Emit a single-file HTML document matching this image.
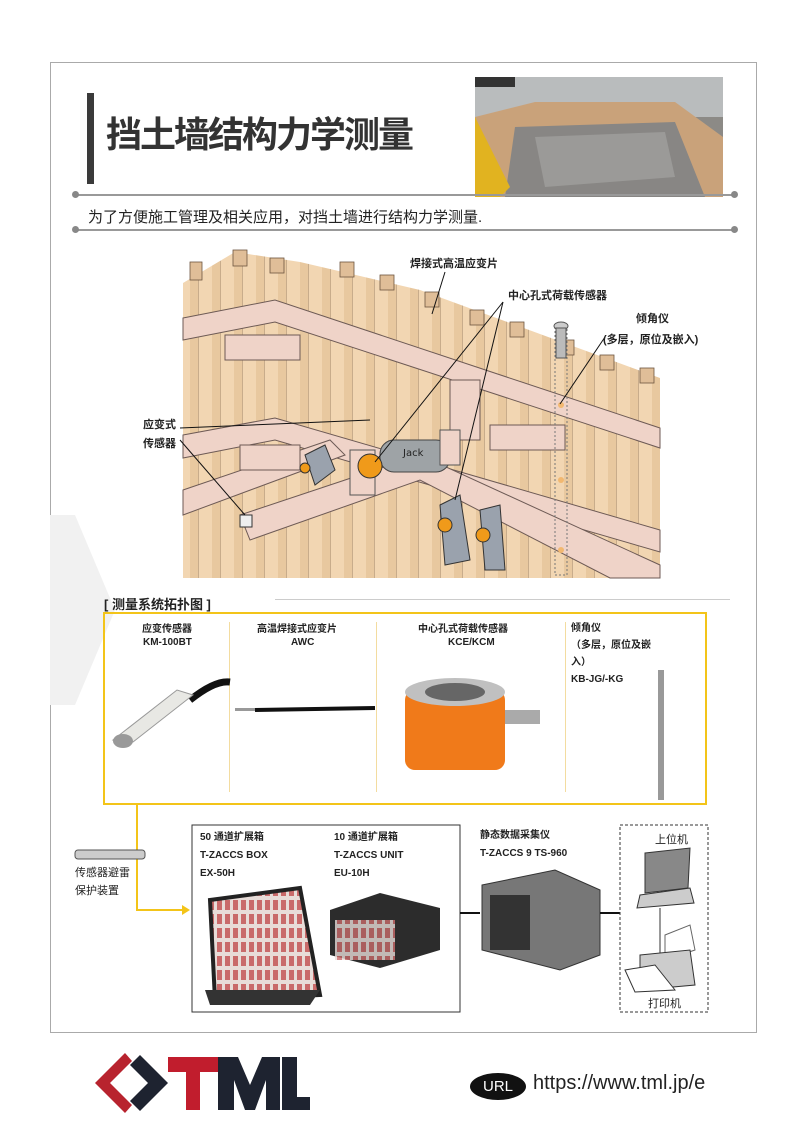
<!DOCTYPE html>
<html><head><meta charset="utf-8">
<style>
body{margin:0;background:#fff;}
#p{position:relative;width:800px;height:1131px;overflow:hidden;background:#fff;font-family:"Liberation Sans","Noto Sans CJK SC",sans-serif;color:#222;}
.a{position:absolute;white-space:nowrap;}
.b{font-weight:bold;}
.s{font-size:11px;}
</style></head><body><div id="p">
<div class="a" style="left:50px;top:62px;width:705px;height:969px;border:1px solid #aaa;"></div>
<svg class="a" style="left:50px;top:515px" width="65" height="190"><polygon points="0,0 25,0 65,95 25,190 0,190 0,0" fill="#f1f1f1"/></svg>
<div class="a" style="left:87px;top:93px;width:7px;height:91px;background:#3a3a3a;"></div>
<div class="a b" style="left:106px;top:106px;font-size:36px;color:#333;letter-spacing:-2px;">挡土墙结构力学测量</div>
<svg class="a" style="left:475px;top:77px" width="248" height="120">
<rect width="248" height="120" fill="#8c8a86"/>
<rect x="0" y="0" width="248" height="40" fill="#b9bcbd"/>
<polygon points="0,40 60,25 200,25 248,60 248,120 0,120" fill="#c9a27a"/>
<polygon points="40,50 200,45 230,120 30,120" fill="#888684"/>
<polygon points="60,60 190,55 200,100 70,110" fill="#9b9a98"/>
<polygon points="0,40 35,110 25,120 0,120" fill="#e1b320"/>
<rect x="0" y="0" width="40" height="10" fill="#333"/>
</svg>
<div class="a" style="left:75px;top:194px;width:660px;height:2px;background:#999;"></div>
<div class="a" style="left:72px;top:191px;width:7px;height:7px;border-radius:50%;background:#888;"></div>
<div class="a" style="left:731px;top:191px;width:7px;height:7px;border-radius:50%;background:#888;"></div>
<div class="a" style="left:88px;top:206px;font-size:15px;">为了方便施工管理及相关应用，对挡土墙进行结构力学测量.</div>
<div class="a" style="left:75px;top:229px;width:660px;height:2px;background:#999;"></div>
<div class="a" style="left:72px;top:226px;width:7px;height:7px;border-radius:50%;background:#888;"></div>
<div class="a" style="left:731px;top:226px;width:7px;height:7px;border-radius:50%;background:#888;"></div>

<svg class="a" style="left:0;top:0" width="800" height="600">
<defs><pattern id="pl" width="22" height="40" patternUnits="userSpaceOnUse"><rect width="22" height="40" fill="#f2d6b2"/><rect x="14" width="8" height="40" fill="#e8c89f"/><line x1="0" y1="0" x2="0" y2="40" stroke="#8a6c50" stroke-width="0.8"/></pattern></defs>
<polygon points="183,283 235,252 300,262 420,290 660,378 660,578 183,578" fill="url(#pl)"/>
<g fill="#e0be98" stroke="#6d5540" stroke-width="0.8">
<rect x="190" y="262" width="12" height="18"/><rect x="233" y="250" width="14" height="16"/><rect x="270" y="258" width="14" height="15"/><rect x="340" y="262" width="14" height="15"/><rect x="380" y="275" width="14" height="15"/><rect x="425" y="292" width="14" height="15"/><rect x="470" y="310" width="14" height="15"/><rect x="510" y="322" width="14" height="15"/><rect x="560" y="340" width="14" height="15"/><rect x="600" y="355" width="14" height="15"/><rect x="640" y="368" width="14" height="15"/>
</g>
<g fill="#efd3c8" stroke="#6d5a55" stroke-width="1">
<polygon points="183,318 275,300 660,428 660,448 275,322 183,340"/>
<polygon points="183,435 275,418 660,530 660,552 275,440 183,458"/>
<polygon points="183,490 330,440 345,455 183,515"/>
<polygon points="240,515 420,455 660,565 660,578 610,578 420,480 250,540"/>
<rect x="225" y="335" width="75" height="25"/>
<rect x="490" y="425" width="75" height="25"/>
<polygon points="240,445 300,445 300,470 240,470"/>
<polygon points="450,380 480,380 480,440 450,440"/>
</g>
<rect x="555" y="325" width="12" height="250" fill="none" stroke="#777" stroke-dasharray="2,2"/>
<ellipse cx="561" cy="326" rx="7" ry="4" fill="#ccc" stroke="#555"/>
<rect x="556" y="328" width="10" height="30" fill="#bbb" stroke="#555"/>
<g fill="#f2b870"><circle cx="561" cy="405" r="3"/><circle cx="561" cy="480" r="3"/><circle cx="561" cy="550" r="3"/></g>
<rect x="380" y="440" width="70" height="32" rx="14" fill="#9ea3a6" stroke="#444"/>
<text x="403" y="456" font-size="10" fill="#222" font-family="DejaVu Sans">Jack</text>
<rect x="350" y="450" width="25" height="45" fill="#efd3c8" stroke="#555"/>
<circle cx="370" cy="466" r="12" fill="#f09a1a" stroke="#333"/>
<rect x="440" y="430" width="20" height="35" fill="#efd3c8" stroke="#555"/>
<g fill="#9aa2ad" stroke="#333"><polygon points="305,455 325,445 335,470 315,485"/><polygon points="440,505 460,495 470,560 445,565"/><polygon points="480,510 500,505 505,570 485,570"/></g>
<circle cx="445" cy="525" r="7" fill="#f09a1a" stroke="#333"/><circle cx="483" cy="535" r="7" fill="#f09a1a" stroke="#333"/>
<circle cx="305" cy="468" r="5" fill="#f09a1a" stroke="#333"/>
<rect x="240" y="515" width="12" height="12" fill="#eee" stroke="#333"/>
<g stroke="#111" stroke-width="1" fill="none">
<line x1="445" y1="272" x2="432" y2="314"/><line x1="180" y1="428" x2="370" y2="420"/><line x1="180" y1="440" x2="245" y2="515"/>
<line x1="503" y1="302" x2="375" y2="462"/><line x1="503" y1="302" x2="455" y2="500"/>
<line x1="605" y1="337" x2="560" y2="404"/>
</g>
</svg>
<div class="a b s" style="left:410px;top:255px;">焊接式高温应变片</div>
<div class="a b s" style="left:508px;top:287px;">中心孔式荷载传感器</div>
<div class="a b s" style="left:636px;top:310px;">倾角仪</div>
<div class="a b s" style="left:603px;top:331px;">(多层，原位及嵌入)</div>
<div class="a b s" style="left:143px;top:416px;">应变式</div>
<div class="a b s" style="left:143px;top:435px;">传感器</div>

<div class="a b" style="left:104px;top:594px;font-size:13px;">[ 测量系统拓扑图 ]</div>
<div class="a" style="left:275px;top:599px;width:455px;height:1px;background:#ccc;"></div>
<div class="a" style="left:103px;top:612px;width:600px;height:189px;border:2px solid #f3c419;"></div>
<div class="a" style="left:229px;top:622px;width:1px;height:170px;background:#f3dca0;"></div>
<div class="a" style="left:376px;top:622px;width:1px;height:170px;background:#f3dca0;"></div>
<div class="a" style="left:565px;top:622px;width:1px;height:170px;background:#f3dca0;"></div>
<div class="a b" style="left:142px;top:620px;font-size:10px;">应变传感器</div>
<div class="a b" style="left:143px;top:637px;font-size:10px;">KM-100BT</div>
<div class="a b" style="left:257px;top:620px;font-size:10px;">高温焊接式应变片</div>
<div class="a b" style="left:291px;top:637px;font-size:10px;">AWC</div>
<div class="a b" style="left:418px;top:620px;font-size:10px;">中心孔式荷载传感器</div>
<div class="a b" style="left:448px;top:637px;font-size:10px;">KCE/KCM</div>
<div class="a b" style="left:571px;top:620px;font-size:10px;line-height:17px;">倾角仪<br>（多层，原位及嵌<br>入）<br>KB-JG/-KG</div>
<svg class="a" style="left:105px;top:660px" width="600" height="140">
<path d="M85,40 Q110,20 125,22" stroke="#111" stroke-width="7" fill="none"/>
<polygon points="8,80 28,82 88,35 72,30" fill="#e8e8e4" stroke="#999"/>
<ellipse cx="18" cy="81" rx="10" ry="7" fill="#999"/>
<rect x="130" y="48" width="20" height="3" fill="#999"/>
<path d="M150,50 L270,48" stroke="#111" stroke-width="4"/>
<rect x="300" y="30" width="100" height="80" rx="10" fill="#f07a1a"/>
<ellipse cx="350" cy="32" rx="50" ry="14" fill="#c0c0c0"/>
<ellipse cx="350" cy="32" rx="30" ry="9" fill="#666"/>
<rect x="400" y="50" width="35" height="14" fill="#aaa"/>
<rect x="553" y="10" width="6" height="130" fill="#999"/>
</svg>

<svg class="a" style="left:0;top:800px" width="800" height="240">
<defs><pattern id="cl" width="8" height="14" patternUnits="userSpaceOnUse"><rect width="8" height="14" fill="#e8dcd8"/><rect x="1" y="2" width="5" height="10" fill="#c96a6a"/></pattern></defs>
<path d="M137,3 L137,110 L185,110" stroke="#f3c419" stroke-width="2" fill="none"/>
<polygon points="190,110 182,105 182,115" fill="#f3c419"/>
<rect x="75" y="50" width="70" height="9" rx="3" fill="#ccc" stroke="#555"/>
<rect x="192" y="25" width="268" height="187" fill="none" stroke="#333"/>
<polygon points="210,100 300,88 320,195 215,200" fill="url(#cl)" stroke="#222" stroke-width="4"/>
<polygon points="205,190 320,190 310,205 210,205" fill="#333"/>
<polygon points="330,110 380,93 440,108 440,150 380,168 330,155" fill="#2c2c2c"/>
<rect x="335" y="120" width="60" height="40" fill="url(#cl)" opacity="0.8"/>
<line x1="460" y1="113" x2="480" y2="113" stroke="#111" stroke-width="2"/>
<polygon points="482,85 555,70 600,90 600,155 560,170 482,150" fill="#777" stroke="#333"/>
<rect x="490" y="95" width="40" height="55" fill="#333"/>
<line x1="600" y1="113" x2="620" y2="113" stroke="#111" stroke-width="2"/>
<rect x="620" y="25" width="88" height="187" fill="none" stroke="#333" stroke-dasharray="3,2"/>
<polygon points="645,53 690,48 688,88 645,93" fill="#888" stroke="#333"/>
<polygon points="640,95 690,88 694,103 637,108" fill="#ccc" stroke="#333"/>
<line x1="660" y1="108" x2="660" y2="160" stroke="#333"/>
<polygon points="665,135 690,125 695,150 665,160" fill="#fff" stroke="#666"/>
<polygon points="640,155 690,150 695,185 640,190" fill="#ccc" stroke="#333"/>
<polygon points="625,170 655,165 675,190 635,192" fill="#fff" stroke="#333"/>
</svg>
<div class="a" style="left:75px;top:864px;font-size:11px;line-height:18px;">传感器避雷<br>保护装置</div>
<div class="a b" style="left:200px;top:829px;font-size:10px;line-height:18px;">50 通道扩展箱<br>T-ZACCS BOX<br>EX-50H</div>
<div class="a b" style="left:334px;top:829px;font-size:10px;line-height:18px;">10 通道扩展箱<br>T-ZACCS UNIT<br>EU-10H</div>
<div class="a b" style="left:480px;top:827px;font-size:10px;line-height:18px;">静态数据采集仪<br>T-ZACCS 9 TS-960</div>
<div class="a" style="left:655px;top:831px;font-size:11px;">上位机</div>
<div class="a" style="left:648px;top:995px;font-size:11px;">打印机</div>

<svg class="a" style="left:90px;top:1045px" width="220" height="75">
<polygon points="5,38 35,8 42,16 20,38 42,60 35,68" fill="#b8232e"/>
<polygon points="40,20 50,10 78,38 50,66 40,56 58,38" fill="#1e2330"/>
<polygon points="78,12 128,12 128,27 110,27 110,65 96,65 96,27 78,27" fill="#c11d2d"/>
<polygon points="128,12 148,12 160,40 172,12 190,12 190,65 176,65 176,35 165,65 155,65 144,35 144,65 128,65" fill="#1e2330"/>
<polygon points="192,12 207,12 207,52 230,52 230,65 192,65" fill="#1e2330"/>
</svg>
<div class="a" style="left:470px;top:1073px;width:56px;height:27px;border-radius:50%;background:#111;color:#fff;font-size:15px;line-height:27px;text-align:center;">URL</div>
<div class="a" style="left:533px;top:1072px;font-size:20px;color:#222;">https://www.tml.jp/e</div>
</div></body></html>
